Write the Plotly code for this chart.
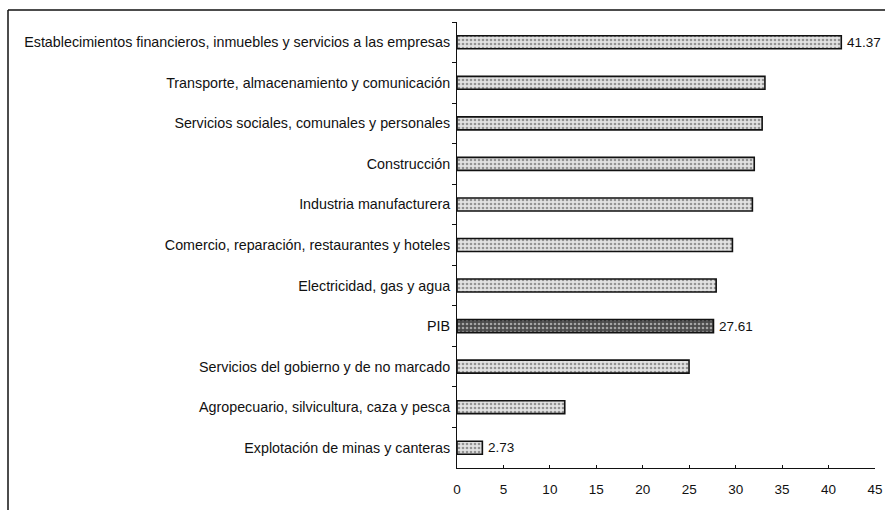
import plotly.graph_objects as go

categories = [
    "Establecimientos financieros, inmuebles y servicios a las empresas",
    "Transporte, almacenamiento y comunicación",
    "Servicios sociales, comunales y personales",
    "Construcción",
    "Industria manufacturera",
    "Comercio, reparación, restaurantes y hoteles",
    "Electricidad, gas y agua",
    "PIB",
    "Servicios del gobierno y de no marcado",
    "Agropecuario, silvicultura, caza y pesca",
    "Explotación de minas y canteras",
]
values = [41.37, 33.15, 32.85, 32.0, 31.8, 29.65, 27.9, 27.61, 24.98, 11.6, 2.73]
value_labels = ["41.37", "", "", "", "", "", "", "27.61", "", "", "2.73"]
x_ticks = [0, 5, 10, 15, 20, 25, 30, 35, 40, 45]

fill_colors = ["#4a4a4a" if c == "PIB" else "#e2e2e2" for c in categories]
pattern_fg = ["#1a1a1a" if c == "PIB" else "#8a8a8a" for c in categories]

W, H = 885, 510
L, R, T, B = 457, 10, 22, 42
PW, PH = W - L - R, H - T - B


def px_x(px):
    return (px - L) / PW


def px_y(py):
    return (H - B - py) / PH


fig = go.Figure(go.Bar(
    y=categories,
    x=values,
    orientation="h",
    width=0.32,
    marker=dict(
        color=fill_colors,
        line=dict(color="#111111", width=1.6),
        pattern=dict(shape=".", fgcolor=pattern_fg, size=4, solidity=0.35),
    ),
    hoverinfo="x+y",
))

annotations = [
    dict(x=v, y=c, xref="x", yref="y", text=t, showarrow=False,
         xanchor="left", xshift=4, font=dict(size=13.5, color="#111111"))
    for c, v, t in zip(categories, values, value_labels) if t
]

fig.update_layout(
    width=W, height=H,
    margin=dict(l=L, r=R, t=T, b=B, autoexpand=False),
    paper_bgcolor="white", plot_bgcolor="white",
    showlegend=False,
    font=dict(family="Liberation Sans, Arial, sans-serif", size=14.3, color="#111111"),
    annotations=annotations,
    shapes=[
        dict(type="line", xref="paper", yref="paper",
             x0=px_x(8), x1=px_x(885), y0=px_y(10), y1=px_y(10),
             line=dict(color="#111111", width=1.5)),
        dict(type="line", xref="paper", yref="paper",
             x0=px_x(8), x1=px_x(8), y0=px_y(10), y1=px_y(510),
             line=dict(color="#111111", width=1.5)),
    ],
)
fig.update_xaxes(
    range=[0, 45], tickvals=x_ticks, showgrid=False, zeroline=False,
    showline=True, linecolor="#111111", linewidth=1,
    ticks="inside", ticklen=3, tickcolor="#111111",
    tickfont=dict(size=13.5), ticklabelstandoff=9, automargin=False,
)
fig.update_yaxes(
    autorange="reversed", showgrid=False, showline=True, linecolor="#111111", linewidth=1,
    ticks="outside", tickson="boundaries", ticklen=4, tickcolor="#111111",
    ticklabelstandoff=3, automargin=False,
)

fig.write_html(
    "out.html",
    config={"displayModeBar": False},
    post_script="document.body.style.margin='0';document.body.style.overflow='hidden';",
)
